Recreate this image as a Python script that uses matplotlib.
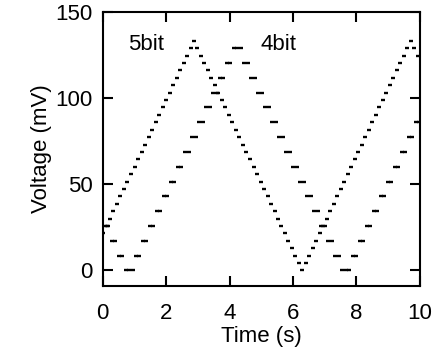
import matplotlib
matplotlib.use('Agg')
import matplotlib.pyplot as plt

plt.rcParams['font.family'] = ['Liberation Sans', 'DejaVu Sans']

# 5-bit quantised triangle: one dot per level (time s, voltage mV)
t5 = [0.01, 0.12, 0.23, 0.34, 0.45, 0.56, 0.67, 0.78, 0.89, 1.01,
      1.12, 1.23, 1.34, 1.45, 1.56, 1.67, 1.78, 1.89, 2.00, 2.11,
      2.22, 2.33, 2.44, 2.55, 2.66, 2.77, 2.88,
      2.99, 3.10, 3.21, 3.32, 3.43, 3.54, 3.65, 3.76, 3.87, 3.98,
      4.09, 4.20, 4.31, 4.42, 4.53, 4.65, 4.76, 4.87, 4.98, 5.09,
      5.20, 5.31, 5.42, 5.53, 5.64, 5.75, 5.86, 5.97, 6.08, 6.19, 6.30,
      6.41, 6.52, 6.63, 6.74, 6.85, 6.96, 7.07, 7.18, 7.29, 7.40,
      7.51, 7.62, 7.73, 7.84, 7.95, 8.06, 8.18, 8.29, 8.40, 8.51,
      8.62, 8.73, 8.84, 8.95, 9.06, 9.17, 9.28, 9.39, 9.50, 9.61, 9.72,
      9.83, 9.94]
v5 = [21.5, 25.8, 30.1, 34.4, 38.7, 43.0, 47.3, 51.6, 55.9, 60.2,
      64.5, 68.8, 73.1, 77.4, 81.7, 86.0, 90.3, 94.6, 98.9, 103.2,
      107.5, 111.8, 116.1, 120.4, 124.7, 129.0, 133.3,
      129.0, 124.7, 120.4, 116.1, 111.8, 107.5, 103.2, 98.9, 94.6, 90.3,
      86.0, 81.7, 77.4, 73.1, 68.8, 64.5, 60.2, 55.9, 51.6, 47.3,
      43.0, 38.7, 34.4, 30.1, 25.8, 21.5, 17.2, 12.9, 8.6, 4.3, 0.0,
      4.3, 8.6, 12.9, 17.2, 21.5, 25.8, 30.1, 34.4, 38.7, 43.0,
      47.3, 51.6, 55.9, 60.2, 64.5, 68.8, 73.1, 77.4, 81.7, 86.0,
      90.3, 94.6, 98.9, 103.2, 107.5, 111.8, 116.1, 120.4, 124.7, 129.0, 133.3,
      129.0, 124.7]

# 4-bit quantised triangle (time s, voltage mV)
t4 = [0.06, 0.17, 0.28, 0.39, 0.50, 0.61, 0.72, 0.83, 0.94, 1.05,
      1.16, 1.27, 1.38, 1.49, 1.60, 1.71, 1.82, 1.93, 2.04, 2.15,
      2.26, 2.37, 2.48, 2.59, 2.71, 2.82, 2.93, 3.04, 3.15, 3.26,
      3.37, 3.48, 3.59, 3.70, 3.81, 3.92, 4.03, 4.14, 4.25, 4.36,
      4.47, 4.58, 4.69, 4.80, 4.91, 5.02, 5.13, 5.24, 5.35, 5.46,
      5.57, 5.68, 5.79, 5.90, 6.01, 6.12, 6.23, 6.34, 6.46, 6.57,
      6.68, 6.79, 6.90, 7.01, 7.12, 7.23, 7.34, 7.45, 7.56, 7.67,
      7.78, 7.89, 8.00, 8.11, 8.22, 8.33, 8.44, 8.55, 8.66, 8.77,
      8.88, 8.99, 9.10, 9.21, 9.32, 9.43, 9.54, 9.65, 9.76, 9.87, 9.98]
v4 = [25.8, 25.8, 17.2, 17.2, 8.6, 8.6, 0.0, 0.0, 0.0, 8.6,
      8.6, 17.2, 17.2, 25.8, 25.8, 34.4, 34.4, 43.0, 43.0, 51.6,
      51.6, 60.2, 60.2, 68.8, 68.8, 77.4, 77.4, 86.0, 86.0, 94.6,
      94.6, 103.2, 103.2, 111.8, 111.8, 120.4, 120.4, 129.0, 129.0, 129.0,
      120.4, 120.4, 111.8, 111.8, 103.2, 103.2, 94.6, 94.6, 86.0, 86.0,
      77.4, 77.4, 68.8, 68.8, 60.2, 60.2, 51.6, 51.6, 43.0, 43.0,
      34.4, 34.4, 25.8, 25.8, 17.2, 17.2, 8.6, 8.6, 0.0, 0.0,
      0.0, 8.6, 8.6, 17.2, 17.2, 25.8, 25.8, 34.4, 34.4, 43.0,
      43.0, 51.6, 51.6, 60.2, 60.2, 68.8, 68.8, 77.4, 77.4, 86.0, 86.0]

fig = plt.figure(figsize=(4.38, 3.52), dpi=100)
ax = fig.add_axes([0.2345, 0.1875, 0.7237, 0.7784])

ax.plot(t5, v5, ls='none', marker='_', ms=2.8, mew=1.7, color='black')
ax.plot(t4, v4, ls='none', marker='_', ms=2.8, mew=1.7, color='black')

ax.text(1.37, 131, '5bit', fontsize=16, ha='center', va='center')
ax.text(5.56, 131, '4bit', fontsize=16, ha='center', va='center')

ax.set_xlim(0, 10)
ax.set_ylim(-9, 150)
ax.set_xticks([0, 2, 4, 6, 8, 10])
ax.set_yticks([0, 50, 100, 150])
ax.tick_params(direction='in', length=7.5, width=1.5, labelsize=16,
               top=True, right=True)
ax.tick_params(axis='x', pad=12)
ax.tick_params(axis='y', pad=7)
for s in ax.spines.values():
    s.set_linewidth(1.5)

ax.set_xlabel('Time (s)', fontsize=16, labelpad=2)
ax.set_ylabel('Voltage (mV)', fontsize=16, labelpad=3)

fig.savefig('out.png', dpi=100)
